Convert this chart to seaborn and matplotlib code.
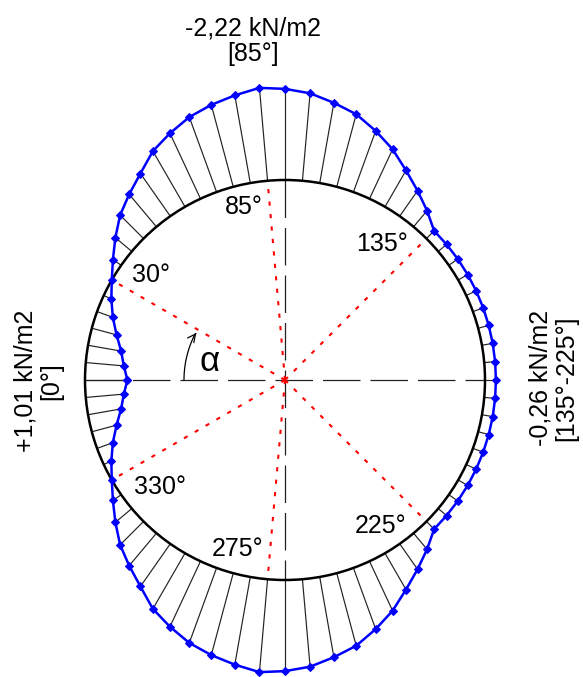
import matplotlib
matplotlib.use('Agg')
import matplotlib.pyplot as plt
from matplotlib.collections import LineCollection
from matplotlib.patches import Circle
import seaborn as sns
import numpy as np
import pandas as pd

# angle alpha (deg, measured from windward side) and wall pressure (kN/m2)
angles = [0, 5, 10, 15, 20, 25, 30, 35, 40, 45, 50, 55, 60, 65, 70, 75, 80, 85,
          90, 95, 100, 105, 110, 115, 120, 125, 130, 135, 140, 145, 150, 155, 160, 165,
          170, 175, 180, 185, 190, 195, 200, 205, 210, 215, 220, 225, 230, 235, 240,
          245, 250, 255, 260, 265, 270, 275, 280, 285, 290, 295, 300, 305, 310, 315,
          320, 325, 330, 335, 340, 345, 350, 355]
pressure = [1.01, 0.91, 0.80, 0.61, 0.40, 0.20, 0.00, -0.24, -0.51, -0.79, -1.01, -1.24,
            -1.53, -1.72, -1.90, -2.02, -2.12, -2.22, -2.17, -2.09, -1.94, -1.79, -1.55,
            -1.30, -1.00, -0.74, -0.50, -0.26, -0.26, -0.26, -0.26, -0.26, -0.26, -0.26,
            -0.26, -0.26, -0.26, -0.26, -0.26, -0.26, -0.26, -0.26, -0.26, -0.26, -0.26,
            -0.26, -0.50, -0.74, -1.00, -1.30, -1.55, -1.79, -1.94, -2.09, -2.17, -2.22,
            -2.12, -2.02, -1.90, -1.72, -1.53, -1.24, -1.01, -0.79, -0.51, -0.24, 0.00,
            0.20, 0.40, 0.61, 0.80, 0.91]
marked_angles = [30, 85, 135, 225, 275, 330]
extreme_labels = ['-2,22 kN/m2\n[85°]', '+1,01 kN/m2\n[0°]', '-0,26 kN/m2\n[135°-225°]']

R = 200      # circle radius (drawing units)
SCALE = 42   # drawing units per kN/m2


def to_xy(a_deg, r):
    a = np.radians(a_deg)
    return -r * np.cos(a), r * np.sin(a)


sns.set_style('white')
plt.rcParams['font.family'] = ['Liberation Sans', 'DejaVu Sans']
plt.rcParams['text.color'] = 'black'

fig = plt.figure(figsize=(5.83, 6.77), dpi=100)
ax = fig.add_axes([0, 0, 1, 1])
ax.set_xlim(-285, 298)
ax.set_ylim(-297, 380)
ax.axis('off')

ang = np.array(angles, dtype=float)
p = np.array(pressure)
rr = R - p * SCALE
cx, cy = to_xy(ang, R)
px, py = to_xy(ang, rr)

# hatch between circle and pressure line
segs = [[(a, b), (c, d)] for a, b, c, d in zip(cx, cy, px, py)]
ax.add_collection(LineCollection(segs, colors='#222222', linewidths=0.85, zorder=1))

# axes through centre
ax.plot([-R, R], [0, 0], color='#222222', lw=0.9, dashes=(30, 8), zorder=2)
ax.plot([0, 0], [R, -R], color='#222222', lw=0.9, dashes=(30, 8), zorder=2)

# red radii at characteristic angles
for a in marked_angles:
    ex, ey = to_xy(a, R)
    ax.plot([0, ex], [0, ey], color='red', lw=1.5, linestyle=(0, (2, 4)), zorder=2)

ax.add_patch(Circle((0, 0), R, fill=False, ec='black', lw=1.8, zorder=3))

df = pd.DataFrame({'x': np.append(px, px[0]), 'y': np.append(py, py[0])})
sns.lineplot(data=df, x='x', y='y', sort=False, estimator=None, color='blue', lw=1.8,
             marker='D', markersize=4, markeredgecolor='blue', ax=ax, zorder=4)

# angle labels
fs = 18
label_pos = {30: (-134, 105), 85: (-41, 173), 135: (97, 136),
             225: (96, -146), 275: (-47, -169), 330: (-125, -107)}
for a in marked_angles:
    ax.text(*label_pos[a], f'{a}°', fontsize=fs, ha='center', va='center', zorder=5)

# alpha arrow
arc = np.linspace(0, 27, 30)
ax_, ay_ = to_xy(arc, 101)
ax.plot(ax_, ay_, color='black', lw=0.9)
tipx, tipy = to_xy(29.5, 100)
ax.annotate('', xy=(tipx, tipy), xytext=(ax_[-2], ay_[-2]),
            arrowprops=dict(arrowstyle='->', lw=0.9, color='black', mutation_scale=14))
ax.text(-75, 18, 'α', fontsize=25, ha='center', va='center')

# extreme values
ax.text(-32, 339, extreme_labels[0], fontsize=fs, ha='center', va='center',
        multialignment='center', linespacing=1.1)
ax.text(-247, -1, extreme_labels[1], fontsize=fs, ha='center', va='center',
        multialignment='center', rotation=90, linespacing=1.1)
ax.text(268, 2, extreme_labels[2], fontsize=fs, ha='center', va='center',
        multialignment='center', rotation=90, linespacing=1.1)

fig.savefig('out.png', dpi=100)
